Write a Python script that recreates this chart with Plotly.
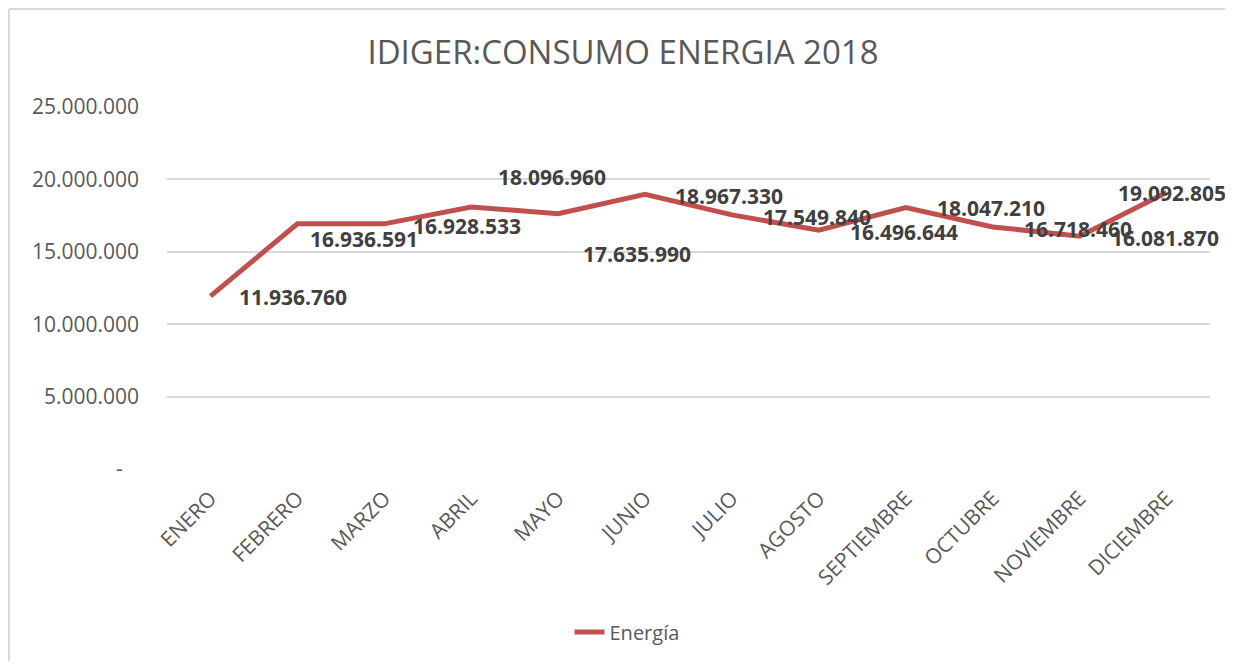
import plotly.graph_objects as go

months = ["ENERO", "FEBRERO", "MARZO", "ABRIL", "MAYO", "JUNIO", "JULIO",
          "AGOSTO", "SEPTIEMBRE", "OCTUBRE", "NOVIEMBRE", "DICIEMBRE"]
energia = [11936760, 16936591, 16928533, 18096960, 17635990, 18967330,
           17549840, 16496644, 18047210, 16718460, 16081870, 19092805]
y_ticks = [0, 5000000, 10000000, 15000000, 20000000, 25000000]
y_ticktext = ["-\u00a0\u00a0\u00a0", "5.000.000", "10.000.000", "15.000.000",
              "20.000.000", "25.000.000"]

# label offsets in pixels (dx right, dy down), as placed in the original chart
label_dx = [83, 67, 83, 81, 79, 84, 85, 85, 85, 85, 85, 5]
label_dy = [1, 15, 2, -30, 40, 2, 2, 2, 0, 2, 2, 0]


def fmt(v):
    return f"{v:,}".replace(",", ".")


W, H = 1217, 653
L, R, T, B = 159, 15, 99, 192
pw, ph = W - L - R, H - T - B

fig = go.Figure()
fig.add_trace(go.Scatter(
    x=months, y=energia, mode="lines", name="Energía",
    line=dict(color="#C0504D", width=5, shape="linear"),
    showlegend=True,
))

for m, v, dx, dy in zip(months, energia, label_dx, label_dy):
    fig.add_annotation(
        x=m, y=v, text=fmt(v), showarrow=False,
        xanchor="center", yanchor="middle", xshift=dx, yshift=-dy,
        font=dict(family="Open Sans", size=21, color="#404040", weight="bold"),
    )

# chart border (light gray) along top and left edges
top_y = 1 + (T - 1) / ph
left_x = (1 - L) / pw
fig.add_shape(type="line", xref="paper", yref="paper",
              x0=left_x, x1=1 + R / pw, y0=top_y, y1=top_y,
              line=dict(color="#D9D9D9", width=2), layer="below")
fig.add_shape(type="line", xref="paper", yref="paper",
              x0=left_x, x1=left_x, y0=-B / ph, y1=top_y,
              line=dict(color="#D9D9D9", width=2), layer="below")

fig.update_layout(
    width=W, height=H,
    margin=dict(l=L, r=R, t=T, b=B, autoexpand=False),
    paper_bgcolor="white", plot_bgcolor="white",
    font=dict(family="Open Sans", color="#595959"),
    title=dict(text="IDIGER:CONSUMO ENERGIA 2018", x=615 / W, xref="container",
               xanchor="center", y=1 - 44 / H, yref="container", yanchor="middle",
               font=dict(family="Open Sans", size=33, color="#595959")),
    xaxis=dict(showgrid=False, showline=False, zeroline=False, tickangle=-45,
               tickfont=dict(size=21, color="#595959"), ticks="",
               ticklabelstandoff=12, automargin=False,
               range=[-0.5, 11.5]),
    yaxis=dict(range=[0, 25000000], tickvals=y_ticks, ticktext=y_ticktext,
               showgrid=True, gridcolor="#D9D9D9", gridwidth=2, zeroline=False,
               showline=False, ticks="", ticklabelstandoff=27, automargin=False,
               tickfont=dict(size=21, color="#595959")),
    legend=dict(orientation="h", x=(619 - L) / pw, xanchor="center",
                yref="container", y=1 - 624 / H, yanchor="middle",
                font=dict(size=20, color="#595959")),
)

fig.write_html("out.html")
